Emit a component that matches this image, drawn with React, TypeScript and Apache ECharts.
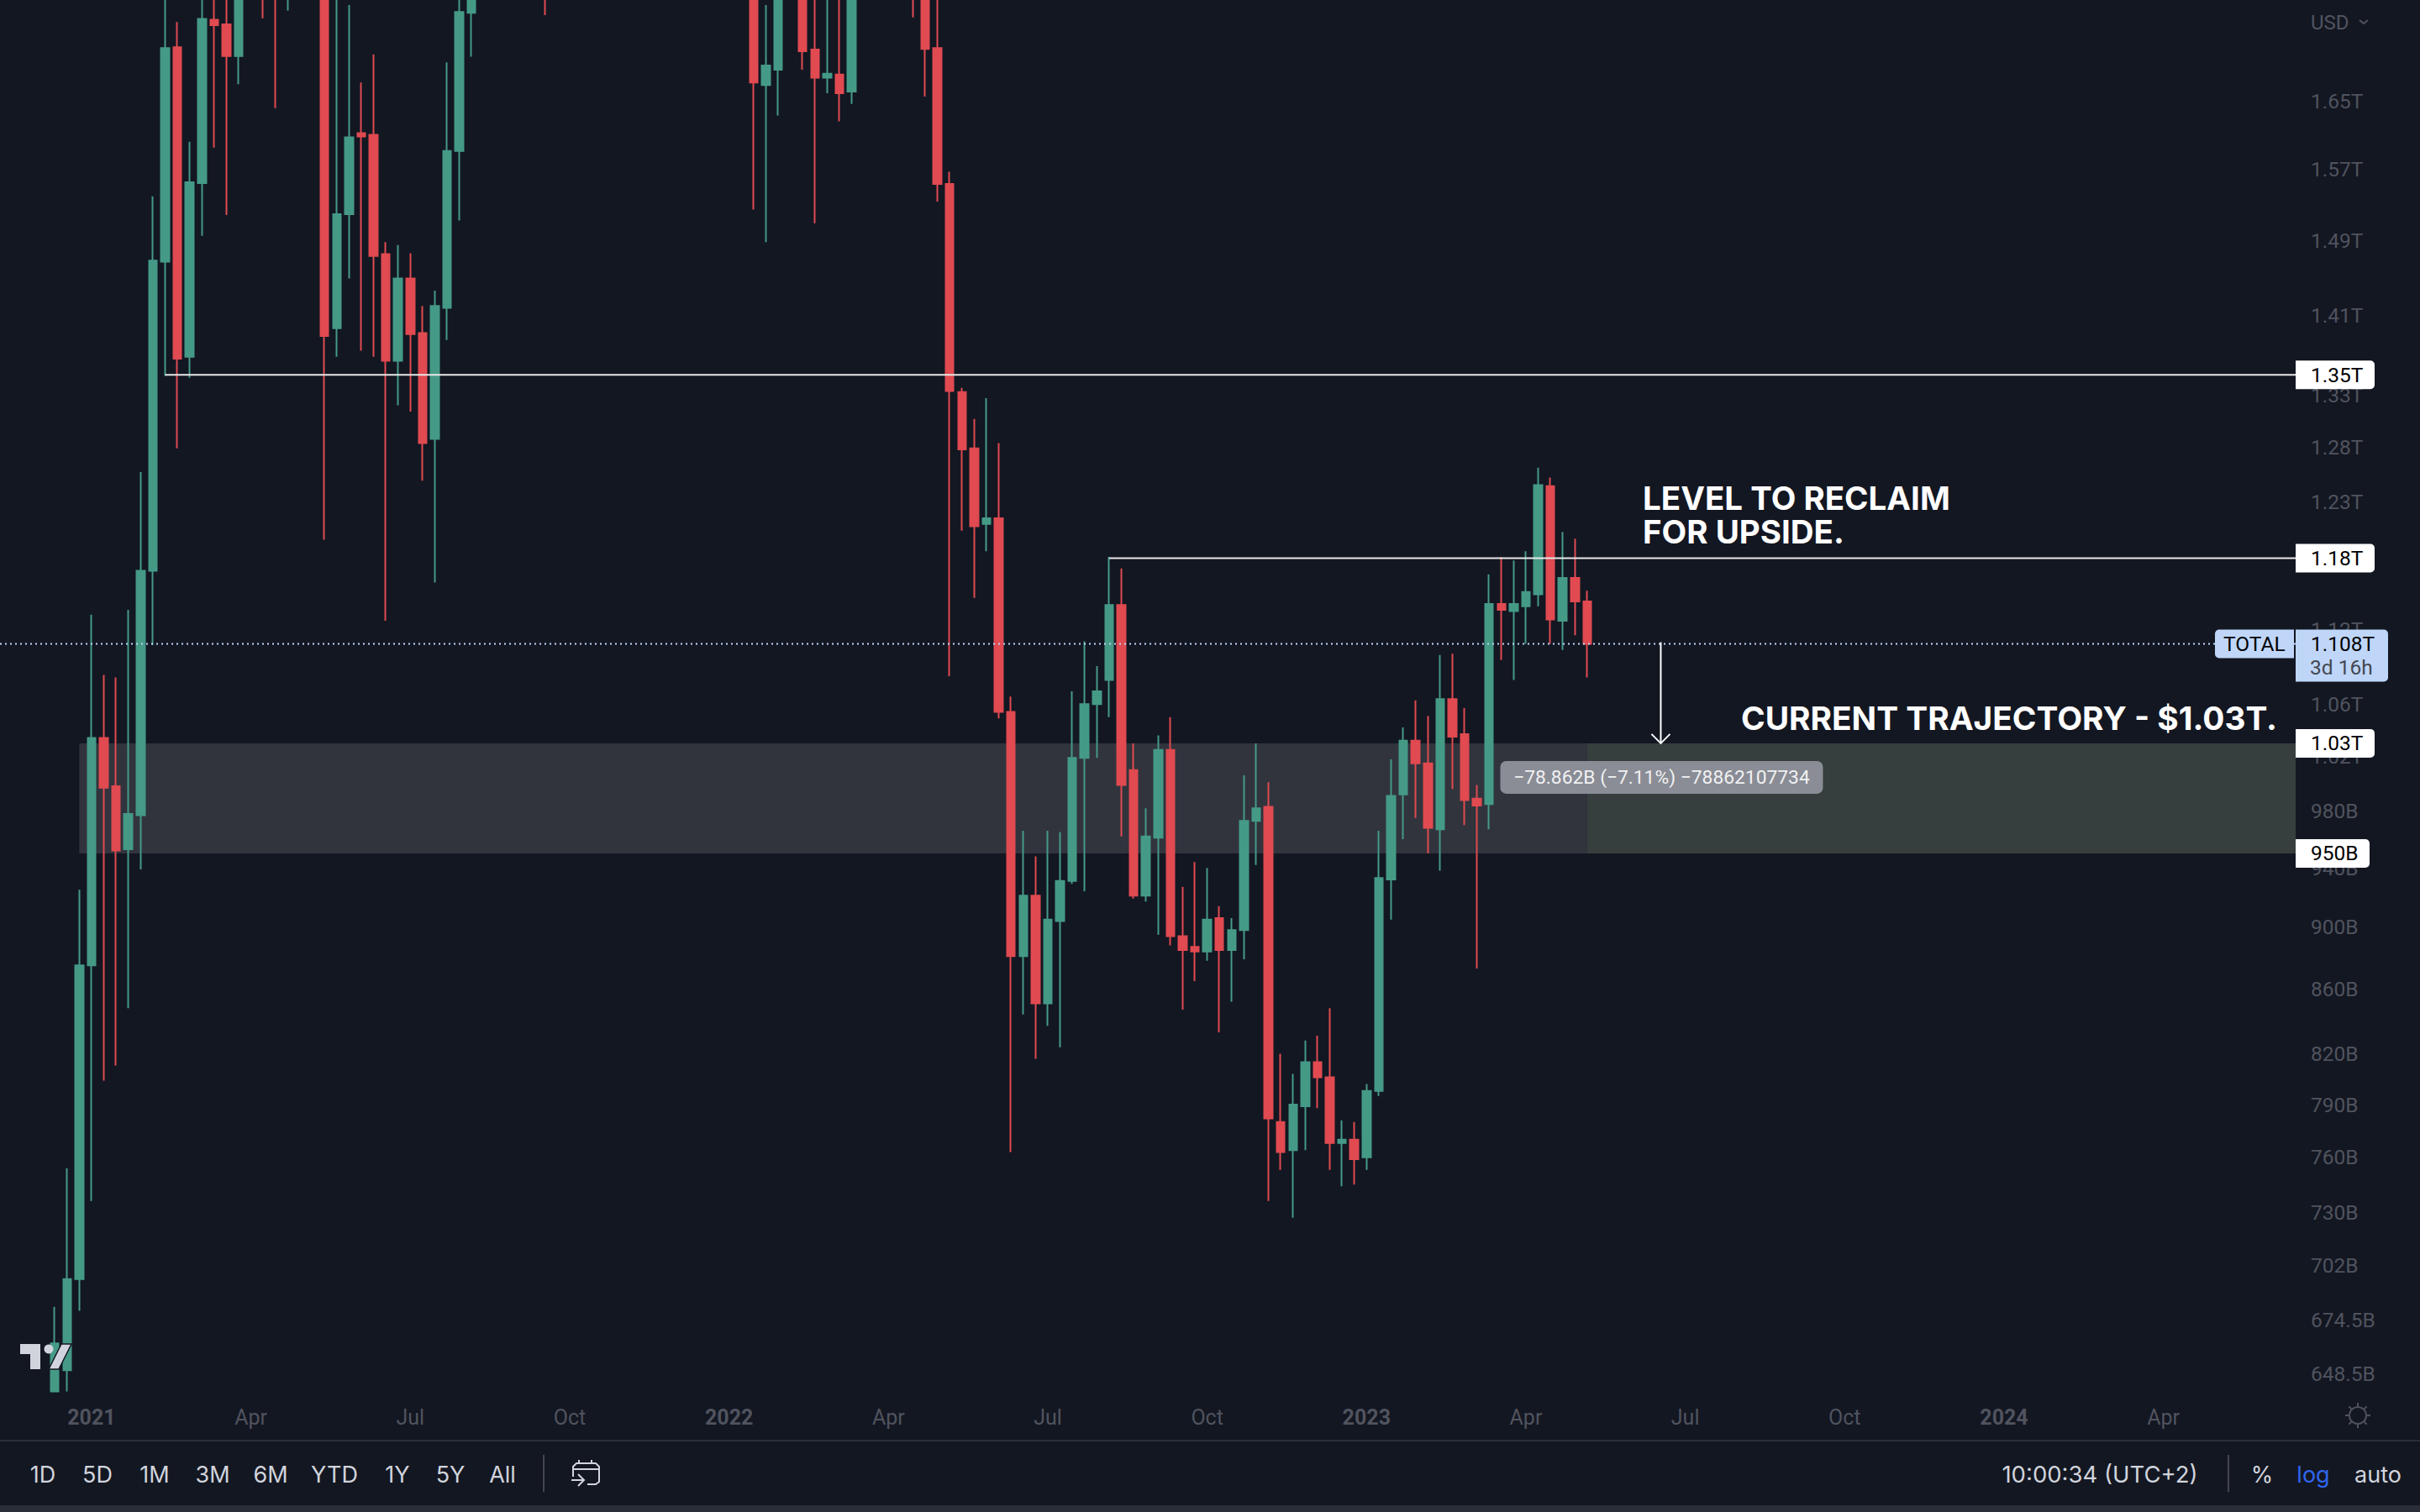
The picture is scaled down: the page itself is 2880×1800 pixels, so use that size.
import * as echarts from "echarts"
import { useEffect, useRef } from "react"

// Weekly TOTAL crypto market cap, TradingView dark theme, log price scale. Values in USD billions.
const DAY = 86400000
const firstWeek = Date.UTC(2020, 11, 14)
const viewStart = firstWeek - 31.28 * DAY
const viewEnd = firstWeek + 1279.5 * DAY

const opens = [
  640, 650, 695, 875, 1034, 998, 953, 977, 1169, 1467,
  1717, 1368, 1554, 1752, 1746, 1706, 1845, 2040, 2000, 1830,
  2080, 2320, 2180, 1397, 1519, 1612, 1610, 1475, 1364, 1449,
  1392, 1288, 1418, 1591, 1761, 1890, 2000, 2060, 2400, 2480,
  2280, 2000, 2080, 1990, 2270, 2470, 2560, 2480, 2620, 2790,
  2760, 2600, 2470, 2370, 2390, 2340, 2200, 2040, 1670, 1689,
  1845, 1900, 1714, 1679, 1683, 1662, 1900, 2050, 2000, 1990,
  1900, 1800, 1716, 1553, 1333, 1279, 1210, 1215, 1054, 881,
  921, 851, 904, 931, 1019, 1060, 1079, 1140, 1010, 921,
  961, 1025, 894, 887, 884, 906, 885, 898, 973, 983,
  780, 764, 789, 815, 806, 768, 770, 760, 798, 932,
  992, 1032, 1015, 967, 1064, 1037, 989, 985, 1141, 1135,
  1139, 1149, 1244, 1127, 1163, 1143,
]
const closes = [
  663, 695, 875, 1034, 997, 952, 978, 1169, 1468, 1716,
  1366, 1555, 1753, 1745, 1706, 1845, 2040, 1880, 1830, 2080,
  2320, 2180, 1389, 1519, 1607, 1608, 1473, 1364, 1449, 1391,
  1284, 1420, 1591, 1762, 1890, 2000, 2060, 2400, 2480, 2280,
  2000, 2080, 1990, 2270, 2470, 2560, 2480, 2620, 2790, 2760,
  2600, 2470, 2370, 2390, 2340, 2200, 2040, 1673, 1694, 1845,
  1900, 1712, 1679, 1684, 1660, 1900, 2050, 2000, 1990, 1900,
  1800, 1715, 1553, 1334, 1278, 1208, 1215, 1054, 881, 921,
  851, 905, 931, 1019, 1060, 1070, 1140, 999, 921, 962,
  1025, 894, 885, 884, 905, 885, 898, 973, 982, 782,
  763, 790, 815, 806, 768, 770, 759, 798, 933, 991,
  1032, 1015, 968, 1064, 1035, 988, 984, 1141, 1136, 1141,
  1151, 1245, 1128, 1163, 1143, 1108,
]
const lows = [
  640, 640, 679, 736, 804, 813, 848, 939, 1107, 1349,
  1279, 1347, 1495, 1595, 1518, 1671, 1800, 1754, 1642, 1764,
  1950, 1980, 1196, 1368, 1449, 1374, 1368, 1127, 1320, 1314,
  1249, 1159, 1385, 1512, 1705, 1830, 1880, 2000, 2320, 2000,
  1758, 1870, 1880, 1960, 2230, 2350, 2330, 2430, 2580, 2650,
  2530, 2400, 2250, 2270, 2200, 2100, 1950, 1524, 1488, 1633,
  1790, 1689, 1509, 1660, 1626, 1647, 1830, 1960, 1860, 1800,
  1755, 1656, 1533, 1082, 1204, 1146, 1186, 1049, 763, 844,
  817, 837, 824, 929, 924, 1019, 1050, 962, 919, 917,
  895, 888, 847, 865, 878, 833, 852, 879, 942, 736,
  753, 727, 764, 788, 753, 744, 745, 753, 795, 905,
  960, 975, 950, 938, 996, 970, 873, 967, 1095, 1079,
  1108, 1139, 1108, 1103, 1115, 1081,
]
const highs = [
  681, 754, 925, 1132, 1083, 1081, 1136, 1257, 1539, 1810,
  1749, 1602, 1822, 1810, 1822, 1950, 2120, 2150, 2080, 2120,
  2360, 2450, 2300, 1800, 1771, 1673, 1708, 1488, 1485, 1476,
  1420, 1436, 1698, 1890, 1950, 2060, 2130, 2450, 2560, 2500,
  2350, 2130, 2140, 2300, 2510, 2620, 2640, 2680, 2830, 2890,
  2810, 2640, 2540, 2480, 2420, 2400, 2260, 2090, 1771, 1960,
  1990, 2000, 1822, 1800, 1800, 1980, 2080, 2150, 2060, 2010,
  1960, 1860, 1822, 1567, 1337, 1307, 1327, 1284, 1066, 966,
  948, 966, 965, 1070, 1110, 1090, 1181, 1171, 1030, 982,
  1036, 1050, 927, 944, 940, 914, 906, 1006, 1030, 1001,
  820, 808, 828, 831, 848, 781, 780, 802, 966, 1018,
  1042, 1063, 1051, 1099, 1100, 1057, 999, 1166, 1181, 1178,
  1186, 1261, 1252, 1203, 1197, 1152,
]
const weeks = opens.map((_, i) => firstWeek + i * 7 * DAY)

const xTickDates = [
  Date.UTC(2021, 0, 4), Date.UTC(2021, 3, 5), Date.UTC(2021, 6, 5), Date.UTC(2021, 9, 4),
  Date.UTC(2022, 0, 3), Date.UTC(2022, 3, 4), Date.UTC(2022, 6, 4), Date.UTC(2022, 9, 3),
  Date.UTC(2023, 0, 2), Date.UTC(2023, 3, 3), Date.UTC(2023, 6, 3), Date.UTC(2023, 9, 2),
  Date.UTC(2024, 0, 1), Date.UTC(2024, 3, 1),
]
const xTickLabels = ["2021", "Apr", "Jul", "Oct", "2022", "Apr", "Jul", "Oct", "2023", "Apr", "Jul", "Oct", "2024", "Apr"]

const yTickValues = [1650, 1570, 1490, 1410, 1330, 1280, 1230, 1120, 1060, 1020, 980, 940, 900, 860, 820, 790, 760, 730, 702, 674.5, 648.5]
const yTickLabels = ["1.65T", "1.57T", "1.49T", "1.41T", "1.33T", "1.28T", "1.23T", "1.12T", "1.06T", "1.02T", "980B", "940B", "900B", "860B", "820B", "790B", "760B", "730B", "702B", "674.5B", "648.5B"]

const lastPrice = 1108
const zoneLow = 950
const zoneHigh = 1030
const zoneSplit = Date.UTC(2023, 4, 8)
const zoneStart = Date.UTC(2020, 11, 28)
const arrowDate = firstWeek + 131 * 7 * DAY

const rayStarts = [Date.UTC(2021, 1, 15), Date.UTC(2022, 7, 8)]
const rayPrices = [1350, 1180]
const tagPrices = [1350, 1180, 1030, 950]
const tagLabels = ["1.35T", "1.18T", "1.03T", "950B"]
const tagWidths = [94, 94, 94, 88]

const rangeButtons = ["1D", "5D", "1M", "3M", "6M", "YTD", "1Y", "5Y", "All"]
const rangeCenters = [51, 116, 184, 253, 322, 398, 473, 536, 598]

const BG = "#131722"
const UP = "#459a86"
const DOWN = "#e04a50"
const MUTED = "#50535e"
const TEXT = "#d1d4dc"
const BLUE_TAG = "#bfd6f8"
const FONT = "Inter, Roboto, sans-serif"
const NUM_FONT = "Roboto, Inter, sans-serif"

const gridRight = 2732
const gridBottom = 1657

const sunTicks = [0, 45, 90, 135, 180, 225, 270, 315]

function label(text: string, x: number, y: number, extra: Record<string, unknown> = {}) {
  return {
    type: "text",
    x,
    y,
    silent: true,
    style: { text, fill: TEXT, fontFamily: FONT, fontSize: 27, align: "center", verticalAlign: "middle", ...extra },
  }
}

function line(x1: number, y1: number, x2: number, y2: number, stroke: string, lineWidth = 2) {
  return { type: "line", silent: true, shape: { x1, y1, x2, y2 }, style: { stroke, lineWidth } }
}

export default function App() {
  const ref = useRef<HTMLDivElement>(null)

  useEffect(() => {
    if (!ref.current) return
    const chart = echarts.init(ref.current, undefined, { renderer: "svg" })

    const sunIcon = sunTicks.map((deg) => {
      const a = (deg * Math.PI) / 180
      return line(2806 + 11 * Math.cos(a), 1685 + 11 * Math.sin(a), 2806 + 15 * Math.cos(a), 1685 + 15 * Math.sin(a), MUTED)
    })

    chart.setOption({
      animation: false,
      backgroundColor: BG,
      grid: { left: 0, top: 0, right: 2880 - gridRight, bottom: 1800 - gridBottom, containLabel: false },
      xAxis: {
        type: "value",
        min: viewStart,
        max: viewEnd,
        axisLine: { show: false },
        axisTick: { show: false },
        splitLine: { show: false },
        axisLabel: {
          customValues: xTickDates,
          margin: 18,
          color: MUTED,
          fontFamily: NUM_FONT,
          fontSize: 25,
          hideOverlap: false,
          showMinLabel: true,
          showMaxLabel: true,
          formatter: (value: number) => {
            const text = xTickLabels[xTickDates.indexOf(value)] ?? ""
            return /^\d/.test(text) ? `{year|${text}}` : text
          },
          rich: { year: { color: MUTED, fontFamily: NUM_FONT, fontSize: 25, fontWeight: 700 } },
        },
      },
      yAxis: {
        type: "log",
        logBase: 10,
        position: "right",
        min: 639.8,
        max: 1777.6,
        axisLine: { show: false },
        axisTick: { show: false },
        splitLine: { show: false },
        axisLabel: {
          customValues: yTickValues,
          margin: 18,
          color: MUTED,
          fontFamily: NUM_FONT,
          fontSize: 24.5,
          hideOverlap: false,
          showMinLabel: true,
          showMaxLabel: true,
          formatter: (value: number) => {
            let best = 0
            yTickValues.forEach((v, i) => {
              if (Math.abs(v - value) < Math.abs(yTickValues[best] - value)) best = i
            })
            return yTickLabels[best]
          },
        },
      },
      series: [
        {
          type: "custom",
          name: "zone",
          z: 1,
          encode: { x: 0, y: 1 },
          data: [
            [zoneStart, zoneHigh, zoneSplit, zoneLow, 0],
            [zoneSplit, zoneHigh, viewEnd, zoneLow, 1],
          ],
          renderItem: (_: unknown, api: any) => {
            const a = api.coord([api.value(0), api.value(1)])
            const b = api.coord([api.value(2), api.value(3)])
            return {
              type: "rect",
              shape: { x: a[0], y: a[1], width: b[0] - a[0], height: b[1] - a[1] },
              style: { fill: api.value(4) === 0 ? "#31343d" : "#363f3d" },
            }
          },
        },
        {
          type: "candlestick",
          name: "TOTAL",
          z: 2,
          barWidth: 10,
          encode: { x: 0, y: [1, 2, 3, 4] },
          data: weeks.map((t, i) => [t, opens[i], closes[i], lows[i], highs[i]]),
          itemStyle: { color: UP, color0: DOWN, borderColor: UP, borderColor0: DOWN, borderWidth: 2 },
        },
        {
          type: "custom",
          name: "rays",
          z: 3,
          encode: { x: 0, y: 1 },
          data: rayStarts.map((t, i) => [t, rayPrices[i]]),
          renderItem: (_: unknown, api: any) => {
            const p = api.coord([api.value(0), api.value(1)])
            return {
              type: "line",
              shape: { x1: p[0], y1: p[1], x2: gridRight, y2: p[1] },
              style: { stroke: "#e8e8e8", lineWidth: 2 },
            }
          },
        },
        {
          type: "custom",
          name: "last price",
          z: 3,
          encode: { x: 0, y: 1 },
          data: [[viewStart, lastPrice]],
          renderItem: (_: unknown, api: any) => {
            const p = api.coord([api.value(0), api.value(1)])
            return {
              type: "line",
              shape: { x1: p[0], y1: p[1], x2: gridRight, y2: p[1] },
              style: { stroke: BLUE_TAG, lineWidth: 2, lineDash: [2, 4] },
            }
          },
        },
        {
          type: "custom",
          name: "projection",
          z: 4,
          encode: { x: 0, y: 1 },
          data: [[arrowDate, lastPrice, zoneHigh]],
          renderItem: (_: unknown, api: any) => {
            const a = api.coord([api.value(0), api.value(1)])
            const b = api.coord([api.value(0), api.value(2)])
            return {
              type: "group",
              children: [
                { type: "line", shape: { x1: a[0], y1: a[1] - 2, x2: b[0], y2: b[1] }, style: { stroke: "#fff", lineWidth: 2 } },
                {
                  type: "polyline",
                  shape: { points: [[b[0] - 11, b[1] - 11], [b[0], b[1]], [b[0] + 11, b[1] - 11]] },
                  style: { stroke: "#fff", lineWidth: 2, fill: "none" },
                },
                {
                  type: "rect",
                  shape: { x: b[0] - 191, y: b[1] + 21, width: 384, height: 39, r: 7 },
                  style: { fill: "#8a8d96" },
                },
                {
                  type: "text",
                  style: {
                    text: "−78.862B (−7.11%) −78862107734",
                    x: b[0] + 1,
                    y: b[1] + 41,
                    fill: "rgba(255,255,255,0.9)",
                    fontFamily: NUM_FONT,
                    fontSize: 22.8,
                    align: "center",
                    verticalAlign: "middle",
                  },
                },
              ],
            }
          },
        },
        {
          type: "custom",
          name: "price tags",
          z: 5,
          encode: { x: 0, y: 1 },
          data: tagPrices.map((v) => [viewEnd, v]),
          renderItem: (params: any, api: any) => {
            const y = api.coord([api.value(0), api.value(1)])[1]
            return {
              type: "group",
              children: [
                {
                  type: "rect",
                  shape: { x: gridRight, y: y - 17, width: tagWidths[params.dataIndex], height: 34, r: [0, 5, 5, 0] },
                  style: { fill: "#ffffff" },
                },
                {
                  type: "text",
                  style: {
                    text: tagLabels[params.dataIndex],
                    x: 2750,
                    y,
                    fill: "#000000",
                    fontFamily: NUM_FONT,
                    fontSize: 24.5,
                    align: "left",
                    verticalAlign: "middle",
                  },
                },
              ],
            }
          },
        },
        {
          type: "custom",
          name: "last price tag",
          z: 5,
          encode: { x: 0, y: 1 },
          data: [[viewEnd, lastPrice]],
          renderItem: (_: unknown, api: any) => {
            const y = api.coord([api.value(0), api.value(1)])[1]
            const text = (t: string, x: number, yy: number, fill: string) => ({
              type: "text",
              style: { text: t, x, y: yy, fill, fontFamily: NUM_FONT, fontSize: 24.5, align: "left", verticalAlign: "middle" },
            })
            return {
              type: "group",
              children: [
                { type: "rect", shape: { x: 2636, y: y - 17, width: 94, height: 34, r: [5, 0, 0, 5] }, style: { fill: BLUE_TAG } },
                { type: "rect", shape: { x: gridRight, y: y - 17, width: 110, height: 62, r: [0, 5, 5, 0] }, style: { fill: BLUE_TAG } },
                text("TOTAL", 2646, y, "#000000"),
                text("1.108T", 2750, y, "#000000"),
                text("3d 16h", 2749, y + 28, "#444852"),
              ],
            }
          },
        },
      ],
      graphic: [
        label("LEVEL TO RECLAIM", 1955, 593, { align: "left", fill: "#fff", fontSize: 38.5, fontWeight: 700 }),
        label("FOR UPSIDE.", 1955, 633, { align: "left", fill: "#fff", fontSize: 38.5, fontWeight: 700 }),
        label("CURRENT TRAJECTORY - $1.03T.", 2072, 854, { align: "left", fill: "#fff", fontSize: 38.8, fontWeight: 700 }),

        label("USD", 2750, 27, { align: "left", fill: MUTED, fontSize: 24, fontFamily: NUM_FONT }),
        { type: "polyline", silent: true, shape: { points: [[2808, 24], [2813, 28], [2818, 24]] }, style: { stroke: MUTED, lineWidth: 2, fill: "none" } },

        // TradingView watermark
        { type: "polygon", silent: true, z: 10, shape: { points: [[24, 1600], [48, 1600], [48, 1630], [36, 1630], [36, 1612], [24, 1612]] }, style: { fill: TEXT } },
        { type: "circle", silent: true, z: 10, shape: { cx: 58, cy: 1606, r: 5.5 }, style: { fill: TEXT } },
        { type: "polygon", silent: true, z: 10, shape: { points: [[73, 1600], [85, 1600], [70, 1630], [58, 1630]] }, style: { fill: TEXT, stroke: BG, lineWidth: 1.5 } },

        // axis corner and footer
        { type: "circle", silent: true, shape: { cx: 2806, cy: 1685, r: 10 }, style: { stroke: MUTED, lineWidth: 2, fill: "none" } },
        ...sunIcon,
        { type: "rect", silent: true, shape: { x: 0, y: 1714, width: 2880, height: 2 }, style: { fill: "#2a2e39" } },
        { type: "rect", silent: true, shape: { x: 0, y: 1792, width: 2880, height: 8 }, style: { fill: "#2a2e39" } },
        ...rangeButtons.map((t, i) => label(t, rangeCenters[i], 1755)),
        line(647, 1732, 647, 1776, "#434651"),
        { type: "polyline", silent: true, shape: { points: [[682, 1758], [682, 1746], [686, 1742], [709, 1742], [713, 1746], [713, 1764], [709, 1767], [699, 1767]] }, style: { stroke: TEXT, lineWidth: 2, fill: "none" } },
        line(682, 1749, 713, 1749, TEXT),
        line(689, 1738, 689, 1742, TEXT),
        line(704, 1738, 704, 1742, TEXT),
        line(680, 1762, 694, 1762, TEXT),
        { type: "polyline", silent: true, shape: { points: [[688, 1755], [695, 1762], [688, 1769]] }, style: { stroke: TEXT, lineWidth: 2, fill: "none" } },
        label("10:00:34 (UTC+2)", 2499, 1755, { fontSize: 27.5 }),
        line(2652, 1732, 2652, 1776, "#434651"),
        label("%", 2692, 1755),
        label("log", 2753, 1755, { fill: "#2f66ee" }),
        label("auto", 2830, 1755),
      ],
    })

    return () => {
      chart.dispose()
    }
  }, [])

  return <div ref={ref} style={{ position: "fixed", left: 0, top: 0, width: 2880, height: 1800 }} />
}
